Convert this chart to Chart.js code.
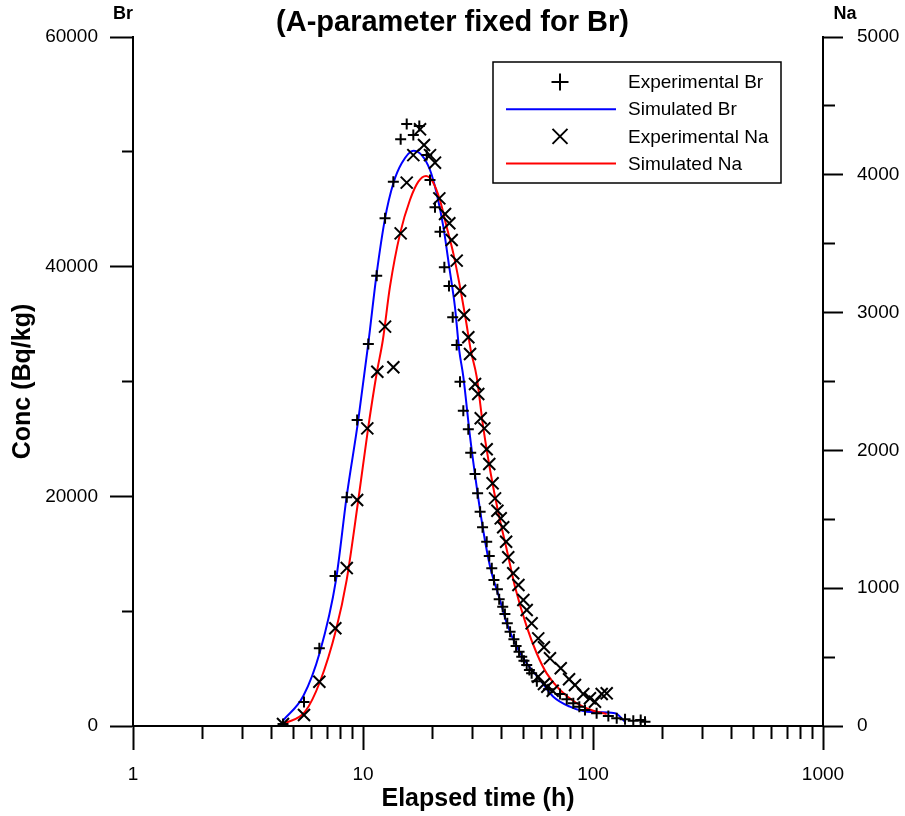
<!DOCTYPE html>
<html>
<head>
<meta charset="utf-8">
<script src="https://cdn.jsdelivr.net/npm/chart.js@4.4.1/dist/chart.umd.min.js"></script>
<style>
  html, body { margin: 0; padding: 0; background: #fff; }
</style>
</head>
<body>
<canvas id="myChart" width="905" height="816"></canvas>
<script>
// experimental Br (+), left axis
const brTime = [4.49, 5.54, 6.46, 7.56, 8.50, 9.43, 10.55, 11.47, 12.47, 13.55, 14.58, 15.49, 16.55, 17.57, 18.92,
  19.56, 20.56, 21.62, 22.58, 23.65, 24.55, 25.55, 26.41, 27.3, 28.7, 29.4, 30.7, 31.5, 32.3, 33.1, 34.5, 35.4,
  36.3, 37.1, 38.4, 39.1, 40.5, 41.4, 42.4, 43.6, 45.3, 46.3, 47.7, 49.0, 50.1, 51.5, 52.9, 54.1, 57, 64, 71.9,
  76.9, 82.1, 87.2, 92.3, 103.7, 116.6, 126.8, 137.8, 149.7, 161.2, 168.3];
const brConc = [170, 2090, 6770, 13060, 19915, 26650, 33270, 39210, 44210, 47400, 51090, 52420, 51460, 52250, 49720,
  47550, 45170, 43050, 39940, 38320, 35590, 33180, 29980, 27460, 25840, 23800, 21950, 20260, 18660, 17300, 16050, 14800,
  13730, 12710, 11900, 11030, 10390, 9750, 8940, 8210, 7550, 6970, 6470, 6040, 5690, 5310, 4880, 4590, 3900, 3200, 2790,
  2320, 1980, 1680, 1390, 1110, 870, 670, 580, 460, 520, 370];

// experimental Na (x), right axis
const naTime = [4.49, 5.54, 6.46, 7.58, 8.50, 9.43, 10.44, 11.54, 12.47, 13.55, 14.58, 15.49, 16.55, 17.7, 18.42,
  19.56, 20.56, 21.47, 22.74, 23.73, 24.3, 25.55, 26.41, 27.49, 28.7, 29.2, 30.7, 31.7, 32.5, 33.7, 34.5, 35.4,
  36.6, 37.5, 38.4, 39.7, 40.7, 41.9, 42.8, 45, 47.4, 49.8, 51.5, 54.1, 57.8, 57.8, 61.2, 61.2, 63.3, 65.0,
  66.8, 72.4, 78.7, 83.5, 90.7, 97.0, 102, 109.1, 114.7];
const naConc = [14, 80, 321, 709, 1146, 1640, 2160, 2571, 2898, 2603, 3575, 3943, 4143, 4330, 4216,
  4143, 4088, 3829, 3716, 3648, 3527, 3377, 3159, 2983, 2821, 2700, 2482, 2409, 2233, 2160, 2008, 1901,
  1761, 1652, 1562, 1507, 1442, 1337, 1224, 1108, 1023, 914, 842, 745, 636, 358, 571, 305, 285, 491,
  256, 419, 339, 298, 232, 201, 176, 232, 237];

// simulated curves
const simBrTime = [4.5, 5.5, 6.5, 7.63, 8.49, 9.54, 10.55, 11.47, 12.47, 13.55, 14.73, 16.55, 18.0, 19.56, 20.9,
  22.35, 23.7, 25.1, 26.2, 27.3, 29.2, 31.2, 33.3, 35.7, 39.4, 42.2, 46.6, 51.5, 58.9, 67.2, 79.4, 93.9, 124.7, 137.8];
const simBrConc = [500, 2610, 6470, 12710, 19970, 26650, 33350, 39420, 44210, 47260, 49000, 50100, 49720, 48420, 46390,
  43480, 40000, 36510, 32740, 30420, 25190, 20840, 17070, 13870, 10970, 8940, 6900, 5460, 4010, 2550, 1680, 1245, 1110, 370];
const simNaTime = [4.5, 5.6, 6.5, 7.63, 8.49, 9.54, 10.55, 11.47, 12.2, 13.1, 14.5, 16.0, 17.4, 18.8, 20.1,
  21.6, 23.1, 24.7, 26.4, 28.0, 29.4, 31.2, 33.3, 35.9, 38.8, 42.2, 45.8, 51.5, 56.9, 62.9, 71.9, 85, 100.3, 114.7];
const simNaConc = [15, 104, 321, 697, 1059, 1640, 2172, 2560, 2801, 3188, 3575, 3817, 3950, 3991, 3950,
  3817, 3623, 3430, 3188, 2946, 2729, 2535, 2172, 1834, 1544, 1277, 1011, 721, 528, 382, 261, 165, 111, 87];

const xTickValues = [1, 2, 3, 4, 5, 6, 7, 8, 9, 10, 20, 30, 40, 50, 60, 70, 80, 90,
  100, 200, 300, 400, 500, 600, 700, 800, 900, 1000];
const xTickLabels = [1, 10, 100, 1000];

const FONT = '"Liberation Sans", Arial, sans-serif';
Chart.defaults.font.family = FONT;
Chart.defaults.color = "#000";

const pts = (xs, ys) => xs.map((x, i) => ({ x: x, y: ys[i] }));

// legend + the small "Br" / "Na" axis captions
const overlay = {
  id: "overlay",
  afterDraw(chart) {
    const c = chart.ctx;
    const yl = chart.scales.yBr;
    const yr = chart.scales.yNa;
    c.save();
    c.fillStyle = "#000";
    c.font = "bold 18px " + FONT;
    c.textAlign = "center";
    c.textBaseline = "middle";
    c.fillText("Br", yl.right - 10, 14);
    c.fillText("Na", yr.left + 22, 14);

    const bx = 493, by = 62, bw = 288, bh = 121;
    c.strokeStyle = "#000";
    c.lineWidth = 1.5;
    c.strokeRect(bx, by, bw, bh);
    c.font = "19px " + FONT;
    c.textAlign = "left";
    chart.data.datasets.forEach((ds, i) => {
      const y = by + 20 + i * 27.2;
      c.strokeStyle = ds.borderColor;
      c.lineWidth = 2;
      c.beginPath();
      if (ds.pointStyle === "cross") {
        c.moveTo(560 - 8.5, y); c.lineTo(560 + 8.5, y);
        c.moveTo(560, y - 8.5); c.lineTo(560, y + 8.5);
      } else if (ds.pointStyle === "crossRot") {
        c.moveTo(560 - 7.5, y - 7.5); c.lineTo(560 + 7.5, y + 7.5);
        c.moveTo(560 - 7.5, y + 7.5); c.lineTo(560 + 7.5, y - 7.5);
      } else {
        c.moveTo(506, y); c.lineTo(616, y);
      }
      c.stroke();
      c.fillStyle = "#000";
      c.fillText(ds.label, 628, y + 1);
    });
    c.restore();
  },
};

const isPow10 = (v) => Math.abs(Math.log10(v) - Math.round(Math.log10(v))) < 1e-9;

const chart = new Chart(document.getElementById("myChart"), {
  type: "scatter",
  data: {
    datasets: [
      {
        label: "Experimental Br",
        data: pts(brTime, brConc),
        yAxisID: "yBr",
        pointStyle: "cross",
        pointRadius: 5.5,
        borderColor: "#000",
        borderWidth: 2,
        showLine: false,
        order: 1,
      },
      {
        label: "Simulated Br",
        data: pts(simBrTime, simBrConc),
        yAxisID: "yBr",
        showLine: true,
        pointRadius: 0,
        borderColor: "#0000ff",
        borderWidth: 2,
        cubicInterpolationMode: "monotone",
        order: 3,
      },
      {
        label: "Experimental Na",
        data: pts(naTime, naConc),
        yAxisID: "yNa",
        pointStyle: "crossRot",
        pointRadius: 8.5,
        borderColor: "#000",
        borderWidth: 2,
        showLine: false,
        order: 0,
      },
      {
        label: "Simulated Na",
        data: pts(simNaTime, simNaConc),
        yAxisID: "yNa",
        showLine: true,
        pointRadius: 0,
        borderColor: "#ff0000",
        borderWidth: 2,
        cubicInterpolationMode: "monotone",
        order: 2,
      },
    ],
  },
  options: {
    responsive: false,
    animation: false,
    layout: { padding: 0 },
    plugins: {
      legend: { display: false },
      tooltip: { enabled: false },
      title: {
        display: true,
        text: "(A-parameter fixed for Br)",
        color: "#000",
        font: { size: 29, weight: "bold", lineHeight: 1.0 },
        padding: { top: 8, bottom: 0 },
      },
    },
    scales: {
      x: {
        type: "logarithmic",
        position: "bottom",
        min: 1,
        max: 1000,
        afterBuildTicks: (s) => { s.ticks = xTickValues.map((v) => ({ value: v })); },
        afterFit: (s) => { s.height = 90; },
        ticks: {
          autoSkip: false,
          maxRotation: 0,
          padding: 13,
          font: { size: 19 },
          callback: (v) => (xTickLabels.includes(v) ? String(v) : ""),
        },
        grid: {
          drawOnChartArea: false,
          color: "#000",
          tickLength: 24,
          tickWidth: 2,
          tickBorderDash: (ctx) => (isPow10(ctx.tick.value) ? [] : [12, 30]),
        },
        border: { color: "#000", width: 2 },
        title: {
          display: true,
          text: "Elapsed time (h)",
          font: { size: 25, weight: "bold" },
          padding: { top: 0, bottom: 2 },
        },
      },
      yBr: {
        type: "linear",
        position: "left",
        min: 0,
        max: 60000,
        afterFit: (s) => { s.width = 133; },
        ticks: {
          stepSize: 10000,
          padding: 12,
          font: { size: 19 },
          callback: (v) => (v % 20000 === 0 ? String(v) : ""),
        },
        grid: {
          drawOnChartArea: false,
          color: "#000",
          tickLength: 23,
          tickWidth: 2,
          tickBorderDash: (ctx) => (ctx.tick.value % 20000 === 0 ? [] : [11, 12]),
          tickBorderDashOffset: 11,
        },
        border: { color: "#000", width: 2 },
        title: {
          display: true,
          text: "Conc (Bq/kg)",
          font: { size: 25, weight: "bold" },
          padding: { top: 8, bottom: 0 },
        },
      },
      yNa: {
        type: "linear",
        position: "right",
        min: 0,
        max: 5000,
        afterFit: (s) => { s.width = 82; },
        ticks: {
          stepSize: 500,
          padding: 14,
          font: { size: 19 },
          callback: (v) => (v % 1000 === 0 ? String(v) : ""),
        },
        grid: {
          drawOnChartArea: false,
          color: "#000",
          tickLength: 20,
          tickWidth: 2,
          tickBorderDash: (ctx) => (ctx.tick.value % 1000 === 0 ? [] : [11, 30]),
        },
        border: { color: "#000", width: 2 },
      },
    },
  },
  plugins: [overlay],
});
</script>
</body>
</html>
